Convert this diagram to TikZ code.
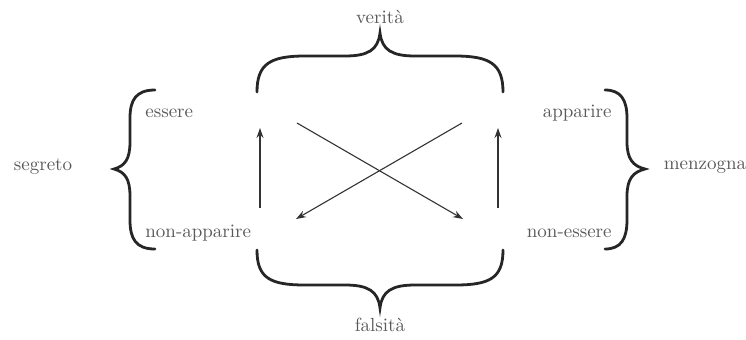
\documentclass[tikz,border=0pt]{standalone}
\usepackage{fontspec}
\usetikzlibrary{arrows.meta}
\begin{document}
\begin{tikzpicture}[x=0.5pt,y=-0.5pt,
		word/.style={text=black!65,font=\fontsize{9.5}{11}\selectfont,inner sep=0pt},
		curly/.style={line width=1.4pt,black!85,line cap=round},
		link/.style={-{Stealth[length=5pt,width=3.5pt]},line width=0.7pt,black!80}]
	\useasboundingbox (0,0) rectangle (746,339);
	% Labels
	\node[word] (ver) at (380,17) {verità};
	\node[word] (fal) at (380,325) {falsità};
	\node[word] (seg) at (43,167) {segreto};
	\node[word] (menz) at (705,167) {menzogna};
	\node[word,anchor=west] (ess) at (145,113) {essere};
	\node[word,anchor=west] (napp) at (145,233) {non-apparire};
	\node[word,anchor=east] (app) at (612,113) {apparire};
	\node[word,anchor=east] (ness) at (612,233) {non-essere};
	% Top brace
	\draw[curly] (257,92) .. controls (257,64) and (270,56) .. (305,56) -- (345,56)
		.. controls (368,56) and (378,50) .. (380,33) .. controls (382,50) and (392,56) .. (415,56)
		-- (455,56) .. controls (490,56) and (503,64) .. (503,92);
	% Bottom brace
	\draw[curly] (257,250) .. controls (257,278) and (270,285) .. (305,285) -- (345,285)
		.. controls (368,285) and (378,291) .. (380,308) .. controls (382,291) and (392,285) .. (415,285)
		-- (455,285) .. controls (490,285) and (503,278) .. (503,250);
	% Left brace
	\draw[curly] (155,90) .. controls (136,90) and (130,100) .. (130,118) -- (130,142)
		.. controls (130,159) and (125,166) .. (114,169) .. controls (125,172) and (130,179) .. (130,196)
		-- (130,220) .. controls (130,239) and (136,249) .. (155,249);
	% Right brace
	\draw[curly] (605,90) .. controls (621,90) and (627,100) .. (627,118) -- (627,142)
		.. controls (627,159) and (633,166) .. (645,169) .. controls (633,172) and (627,179) .. (627,196)
		-- (627,220) .. controls (627,239) and (621,249) .. (605,249);
	% Arrow ends
	\coordinate (lb) at (260,208);
	\coordinate (lt) at (260,128);
	\coordinate (rb) at (498,208);
	\coordinate (rt) at (498,128);
	\coordinate (xa) at (297,123);
	\coordinate (xb) at (463,219);
	\coordinate (xc) at (462,123);
	\coordinate (xd) at (296,219);
	% Arrows
	\draw[link] (lb) -- (lt);
	\draw[link] (rb) -- (rt);
	\draw[link,line width=0.55pt] (xa) -- (xb);
	\draw[link,line width=0.55pt] (xc) -- (xd);
\end{tikzpicture}
\end{document}
